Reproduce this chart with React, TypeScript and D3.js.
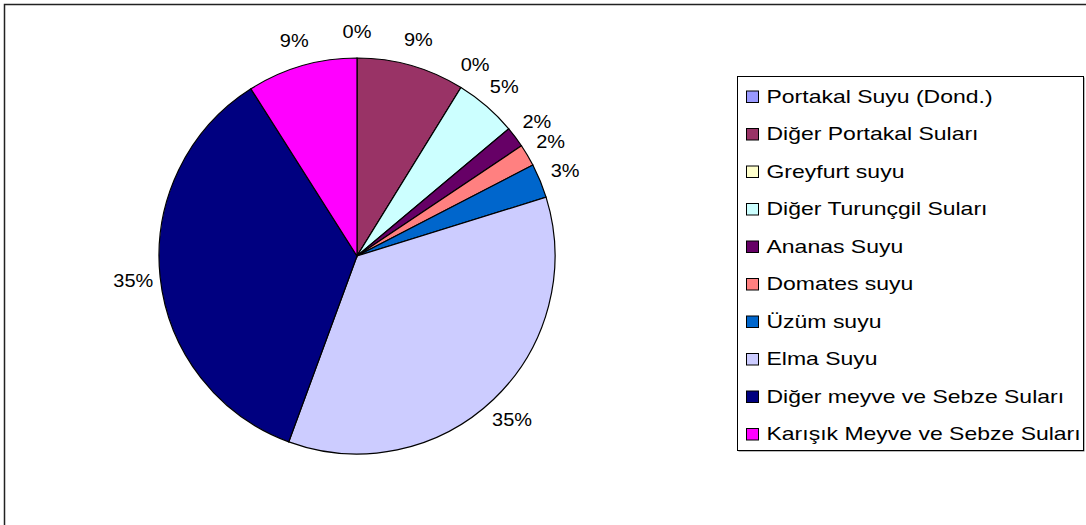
import React from "react";
import * as d3 from "d3";

const categories = [
  "Portakal Suyu (Dond.)",
  "Diğer Portakal Suları",
  "Greyfurt suyu",
  "Diğer Turunçgil Suları",
  "Ananas Suyu",
  "Domates suyu",
  "Üzüm suyu",
  "Elma Suyu",
  "Diğer meyve ve Sebze Suları",
  "Karışık Meyve ve Sebze Suları",
];
const values = [0, 8.8, 0, 5.1, 1.7, 1.8, 2.8, 35.4, 35.4, 9.0];
const colors = [
  "#9999FF",
  "#993366",
  "#FFFFCC",
  "#CCFFFF",
  "#660066",
  "#FF8080",
  "#0066CC",
  "#CCCCFF",
  "#000080",
  "#FF00FF",
];

const W = 1086;
const H = 525;
const cx = 357;
const cy = 256;
const R = 198;
const labelR = 225;
const FONT = "'Liberation Sans', Arial, sans-serif";

export default function App() {
  const total = d3.sum(values);
  const pie = d3
    .pie<number>()
    .sort(null)
    .value((d) => d)
    .startAngle(0)
    .endAngle(2 * Math.PI);
  const arcs = pie(values);
  const arc = d3.arc<d3.PieArcDatum<number>>().innerRadius(0).outerRadius(R);
  const labelArc = d3
    .arc<d3.PieArcDatum<number>>()
    .innerRadius(labelR)
    .outerRadius(labelR);

  const legendX = 737;
  const legendY = 76;
  const legendW = 346;
  const legendH = 374;
  const rowStep = 37.5;
  const firstBaseline = 102.5;

  return (
    <svg
      width={W}
      height={H}
      style={{ position: "absolute", left: 0, top: 0, background: "#fff" }}
      fontFamily={FONT}
    >
      <rect x={0} y={0} width={W} height={H} fill="#fff" />
      <rect
        x={4.5}
        y={4.5}
        width={W + 20}
        height={H + 20}
        fill="none"
        stroke="#222"
        strokeWidth={1.5}
      />
      <g transform={`translate(${cx},${cy})`}>
        {arcs.map((a, i) => (
          <path
            key={i}
            d={arc(a) || ""}
            fill={colors[i]}
            stroke="#000"
            strokeWidth={1.2}
          />
        ))}
        {arcs.map((a, i) => {
          const [lx, ly] = labelArc.centroid(a);
          return (
            <text
              key={"l" + i}
              transform={`translate(${lx},${ly}) scale(1.05,1)`}
              textAnchor="middle"
              dominantBaseline="central"
              style={{ fontSize: "19px" }}
              fill="#000"
            >
              {Math.round((values[i] / total) * 100) + "%"}
            </text>
          );
        })}
      </g>
      <g>
        <rect
          x={legendX + 1.5}
          y={legendY + 1.5}
          width={legendW}
          height={legendH}
          fill="#777"
        />
        <rect
          x={legendX + 0.5}
          y={legendY + 0.5}
          width={legendW}
          height={legendH}
          fill="#fff"
          stroke="#000"
          strokeWidth={1}
        />
        {categories.map((c, i) => {
          const by = firstBaseline + i * rowStep;
          return (
            <g key={"lg" + i}>
              <rect
                x={746.5}
                y={by - 11.5}
                width={12}
                height={11.5}
                fill={colors[i]}
                stroke="#000"
                strokeWidth={1}
              />
              <text
                transform={`translate(766.5,${by}) scale(1.21,1)`}
                style={{ fontSize: "19px" }}
                fill="#000"
              >
                {c}
              </text>
            </g>
          );
        })}
      </g>
    </svg>
  );
}
